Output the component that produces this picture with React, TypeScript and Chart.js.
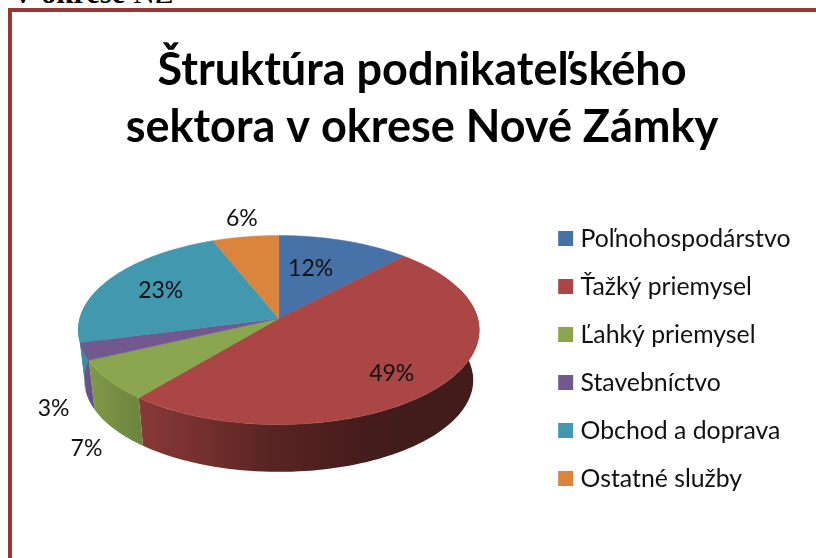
import React, { useEffect, useRef } from "react";
import { Chart, registerables } from "chart.js";

Chart.register(...registerables);

const titleLines = ["Štruktúra podnikateľského", "sektora v okrese Nové Zámky"];
const categories = ["Poľnohospodárstvo", "Ťažký priemysel", "Ľahký priemysel", "Stavebníctvo", "Obchod a doprava", "Ostatné služby"];
const shares = [12, 49, 7, 3, 23, 6];
const sliceColors = ["#4672a8", "#aa4644", "#89a54e", "#71588f", "#4198af", "#db843d"];
const labelRadius = [0.612, 0.758, 1.445, 1.327, 0.696, 1.268];
const labelTurn = [-5.3, 4.2, -17.3, -20.4, 0.7, 1.1];
const wallShadeStops: [number, number][] = [[0, 0.95], [0.143, 0.81], [0.306, 0.68], [0.48, 0.52], [0.655, 0.43], [0.8, 0.39], [1, 0.39]];

const RAD = Math.PI / 180;
const TILT = 0.1217;
const FLAT = 0.468;
const APEX_LIFT = 40;
const APEX_SHIFT = -13;
const BOTTOM_SCALE = 0.97;
const BOTTOM_DROP = 50.5;

function project(theta: number, rho: number, cx: number, apexY: number, a: number, b: number) {
  const X = rho * Math.sin(theta);
  const Y = -rho * Math.cos(theta);
  const d = 1 - TILT * Y;
  return { x: cx + (a * X) / d, y: apexY + (b * Y) / d };
}

function shade(hex: string, f: number) {
  const n = parseInt(hex.slice(1), 16);
  return `rgb(${((n >> 16) & 255) * f},${((n >> 8) & 255) * f},${(n & 255) * f})`;
}

const pie3d = {
  id: "pie3d",
  beforeDatasetsDraw(chart: any) {
    const ctx = chart.ctx;
    const arcs = chart.getDatasetMeta(0).data;
    const cx = arcs[0].x + APEX_SHIFT;
    const apexY = arcs[0].y - APEX_LIFT;
    const a = arcs[0].outerRadius;
    const b = a * FLAT;
    // clockwise angle from 12 o'clock, taken from the library's arc elements
    const spans = arcs.map((arc: any) => [arc.startAngle + Math.PI / 2, arc.endAngle + Math.PI / 2]);

    ctx.save();
    // side wall
    arcs.forEach((arc: any, i: number) => {
      const from = Math.max(spans[i][0], 70 * RAD);
      const to = Math.min(spans[i][1], 290 * RAD);
      if (to <= from) return;
      const g = ctx.createLinearGradient(cx - a, 0, cx + a, 0);
      wallShadeStops.forEach(([t, f]) => g.addColorStop(t, shade(sliceColors[i], f)));
      ctx.fillStyle = g;
      ctx.beginPath();
      const steps = 80;
      for (let s = 0; s <= steps; s++) {
        const p = project(from + ((to - from) * s) / steps, 1, cx, apexY, a, b);
        ctx.lineTo(p.x, p.y);
      }
      for (let s = steps; s >= 0; s--) {
        const p = project(from + ((to - from) * s) / steps, 1, cx, apexY + BOTTOM_DROP, a * BOTTOM_SCALE, b * BOTTOM_SCALE);
        ctx.lineTo(p.x, p.y);
      }
      ctx.closePath();
      ctx.fill();
    });
    // top face
    arcs.forEach((arc: any, i: number) => {
      ctx.fillStyle = arc.options.backgroundColor;
      ctx.strokeStyle = arc.options.backgroundColor;
      ctx.lineWidth = 0.5;
      ctx.beginPath();
      ctx.moveTo(cx, apexY);
      const steps = 120;
      for (let s = 0; s <= steps; s++) {
        const p = project(spans[i][0] + ((spans[i][1] - spans[i][0]) * s) / steps, 1, cx, apexY, a, b);
        ctx.lineTo(p.x, p.y);
      }
      ctx.closePath();
      ctx.fill();
      ctx.stroke();
    });
    // percentage labels
    ctx.fillStyle = "#111";
    ctx.font = "23px Lato";
    ctx.textAlign = "center";
    ctx.textBaseline = "middle";
    arcs.forEach((arc: any, i: number) => {
      const mid = (spans[i][0] + spans[i][1]) / 2 + labelTurn[i] * RAD;
      const p = project(mid, labelRadius[i], cx, apexY, a, b);
      ctx.fillText(`${shares[i]}%`, p.x, p.y + 1);
    });
    ctx.restore();
    return false;
  },
};

export default function App() {
  const ref = useRef<HTMLCanvasElement>(null);
  useEffect(() => {
    const chart = new Chart(ref.current!, {
      type: "pie",
      data: {
        labels: categories,
        datasets: [{ data: shares, backgroundColor: sliceColors, borderWidth: 0, radius: 199 }],
      },
      options: {
        responsive: false,
        animation: false,
        layout: { padding: { left: 31.5, right: 31.5, top: 30, bottom: 0 } },
        plugins: {
          title: {
            display: true,
            text: titleLines,
            color: "#000",
            font: { family: "Lato", size: 45, weight: "bold", lineHeight: 1.267 },
            padding: { top: 0, bottom: 0 },
          },
          legend: {
            position: "right",
            fullSize: false,
            labels: {
              usePointStyle: true,
              pointStyle: "rect",
              boxWidth: 5,
              boxHeight: 15,
              padding: 23.2,
              color: "#111",
              font: { family: "Lato", size: 24.8 },
            },
          },
          tooltip: { enabled: false },
        },
      } as any,
      plugins: [pie3d as any],
    });
    return () => chart.destroy();
  }, []);
  return (
    <div style={{ position: "fixed", inset: 0, width: 816, height: 558, overflow: "hidden", background: "#fff" }}>
      <div style={{ position: "absolute", left: 12, top: -22, fontFamily: "'Liberation Serif'", fontSize: 30.5, lineHeight: "30px", color: "#000", whiteSpace: "nowrap" }}>
        <b>V okrese</b> NZ
      </div>
      <div style={{ position: "absolute", left: 8, top: 8, width: 1000, height: 800, border: "4.5px solid #953735", boxSizing: "border-box" }} />
      <canvas ref={ref} width={820} height={549} style={{ position: "absolute", left: 12, top: 12, display: "block" }} />
    </div>
  );
}
